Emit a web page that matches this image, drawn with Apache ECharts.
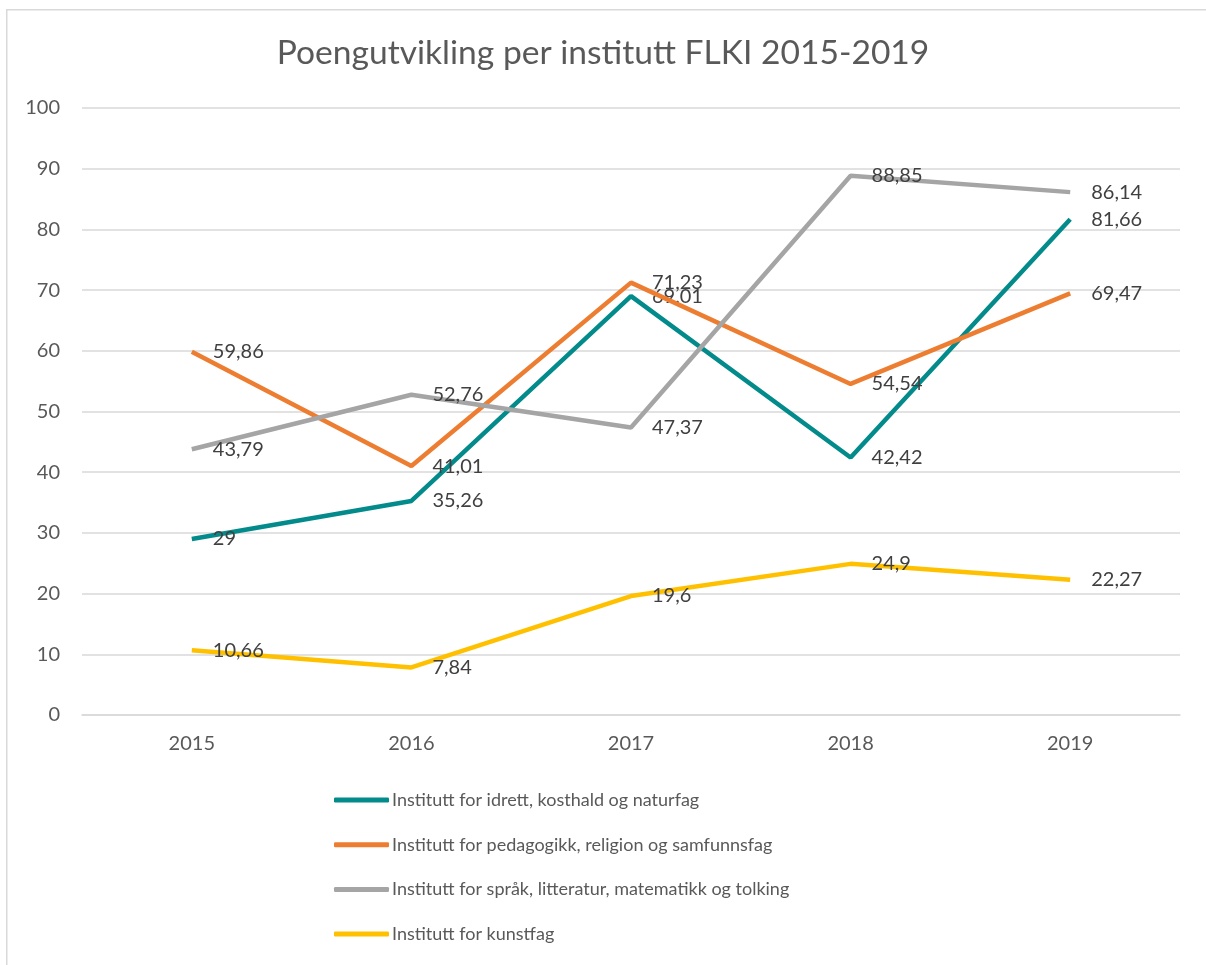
<!DOCTYPE html>
<html>
<head>
<meta charset="utf-8">
<script src="https://cdn.jsdelivr.net/npm/echarts@6/dist/echarts.min.js"></script>
<style>html,body{margin:0;padding:0;background:#fff;}#chart{width:1206px;height:965px;}</style>
</head>
<body>
<div id="chart"></div>
<script>
const titleText = 'Poengutvikling per institutt FLKI 2015-2019';
const years = ['2015', '2016', '2017', '2018', '2019'];
const seriesNames = [
  'Institutt for idrett, kosthald og naturfag',
  'Institutt for pedagogikk, religion og samfunnsfag',
  'Institutt for språk, litteratur, matematikk og tolking',
  'Institutt for kunstfag'
];
const idrett = [29, 35.26, 69.01, 42.42, 81.66];
const pedagogikk = [59.86, 41.01, 71.23, 54.54, 69.47];
const spraak = [43.79, 52.76, 47.37, 88.85, 86.14];
const kunstfag = [10.66, 7.84, 19.6, 24.9, 22.27];
const colors = ['#038B8B', '#ED7D31', '#A5A5A5', '#FFC000'];

const allData = [idrett, pedagogikk, spraak, kunstfag];
const font = 'Lato, "Open Sans", sans-serif';

const chart = echarts.init(document.getElementById('chart'));
chart.setOption({
  animation: false,
  color: colors,
  textStyle: { fontFamily: font },
  graphic: [{
    type: 'rect', left: 6, top: 9, z: -10,
    shape: { width: 1260, height: 1000 },
    style: { fill: '#fff', stroke: '#d9d9d9', lineWidth: 1.5 }
  }],
  title: {
    text: titleText,
    left: 'center', top: 31,
    textStyle: { fontFamily: font, fontSize: 33.6, fontWeight: 'normal', color: '#595959' }
  },
  grid: { left: 82, right: 26, top: 108, bottom: 250, containLabel: false },
  legend: {
    orient: 'vertical',
    left: 329, top: 785,
    itemWidth: 55, itemHeight: 5,
    itemGap: 24.7,
    icon: 'roundRect',
    textStyle: { fontFamily: font, fontSize: 18, color: '#595959', lineHeight: 20, padding: [0, 0, 0, -2] },
    data: seriesNames
  },
  xAxis: {
    type: 'category',
    data: years,
    boundaryGap: true,
    axisLine: { show: true, lineStyle: { color: '#d9d9d9', width: 1.5 } },
    axisTick: { show: false },
    axisLabel: { color: '#595959', fontSize: 20, margin: 19, fontFamily: font }
  },
  yAxis: {
    type: 'value',
    min: 0, max: 100, interval: 10,
    axisLine: { show: false },
    axisTick: { show: false },
    splitLine: { lineStyle: { color: '#d9d9d9', width: 1.5 } },
    axisLabel: { color: '#595959', fontSize: 20, margin: 22, fontFamily: font }
  },
  series: allData.map((d, i) => ({
    name: seriesNames[i],
    type: 'line',
    data: d,
    showSymbol: true,
    symbol: 'circle',
    symbolSize: 0.01,
    lineStyle: { width: 4.5, color: colors[i] },
    itemStyle: { color: colors[i] },
    emphasis: { disabled: true },
    z: 2 + i,
    label: {
      show: true,
      position: 'right',
      distance: 21,
      color: '#404040',
      fontSize: 20,
      fontFamily: font,
      formatter: p => String(p.value).replace('.', ',')
    }
  }))
});
</script>
</body>
</html>
